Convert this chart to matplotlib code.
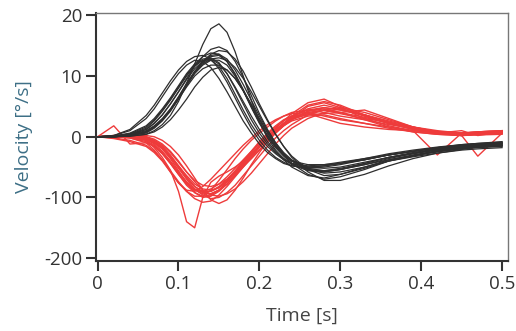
import matplotlib.pyplot as plt
import numpy as np

# time samples (s)
t = [0, 0.02, 0.04, 0.06, 0.07, 0.08, 0.09, 0.10, 0.11, 0.12, 0.13, 0.14, 0.15, 0.16,
     0.17, 0.18, 0.19, 0.20, 0.21, 0.22, 0.23, 0.24, 0.26, 0.28, 0.30, 0.33, 0.36,
     0.39, 0.42, 0.45, 0.47, 0.50]

# black trials
black_trials = [
    [0, 0, 1, 4, 10, 20, 35, 58, 88, 120, 152, 178, 186, 172, 140, 100, 60, 25, -2, -22, -36, -46, -56, -58, -54, -44, -34, -27, -21, -16, -14, -12],
    [0, 2, 12, 35, 52, 72, 92, 110, 124, 132, 134, 128, 112, 90, 64, 38, 14, -6, -22, -34, -42, -48, -52, -50, -46, -38, -30, -24, -18, -14, -12, -10],
    [0, 0, 3, 12, 22, 36, 54, 74, 94, 112, 124, 126, 116, 96, 70, 44, 20, 0, -16, -28, -38, -44, -48, -46, -42, -36, -30, -24, -19, -15, -13, -11],
    [0, 0, 2, 8, 16, 28, 44, 64, 86, 106, 122, 132, 134, 124, 104, 78, 50, 24, 2, -16, -30, -40, -50, -52, -50, -42, -34, -28, -22, -17, -15, -13],
    [0, 1, 5, 16, 28, 44, 62, 82, 102, 118, 128, 130, 122, 104, 80, 54, 28, 6, -12, -26, -36, -44, -50, -48, -44, -36, -28, -22, -17, -13, -11, -9],
    [0, 0, 1, 4, 8, 16, 28, 44, 62, 82, 98, 110, 114, 110, 96, 76, 52, 28, 6, -14, -30, -44, -62, -70, -66, -54, -40, -32, -24, -19, -16, -14],
    [0, 0, 4, 14, 26, 42, 60, 80, 100, 116, 126, 128, 120, 104, 82, 58, 34, 12, -8, -24, -38, -50, -64, -68, -62, -50, -38, -30, -23, -18, -16, -14],
    [0, 0, 2, 8, 16, 28, 44, 64, 86, 106, 124, 136, 142, 140, 128, 108, 82, 54, 28, 4, -16, -32, -54, -64, -62, -52, -40, -31, -24, -19, -17, -15],
    [0, 0, 2, 6, 14, 26, 42, 62, 84, 104, 118, 126, 126, 118, 100, 76, 50, 24, 2, -16, -30, -40, -46, -46, -44, -38, -30, -24, -18, -13, -11, -8],
    [0, 1, 4, 12, 22, 36, 54, 74, 96, 116, 132, 144, 148, 142, 124, 98, 68, 38, 12, -10, -28, -40, -54, -58, -54, -46, -36, -28, -21, -16, -14, -12],
    [0, 0, 2, 8, 16, 28, 44, 64, 86, 106, 120, 128, 130, 126, 114, 96, 74, 50, 26, 4, -16, -34, -58, -72, -72, -62, -48, -36, -27, -21, -17, -15],
    [0, 1, 6, 18, 30, 46, 64, 84, 104, 120, 132, 138, 136, 124, 102, 76, 48, 22, 0, -18, -32, -44, -54, -56, -52, -44, -34, -26, -20, -15, -13, -11],
    [0, 0, 3, 10, 18, 30, 46, 66, 88, 108, 124, 134, 136, 128, 110, 86, 60, 34, 10, -10, -26, -38, -52, -56, -54, -46, -38, -31, -25, -20, -18, -16],
    [0, 0, 2, 8, 16, 28, 44, 62, 82, 100, 112, 118, 118, 110, 96, 76, 54, 30, 8, -12, -28, -40, -54, -60, -58, -50, -40, -33, -27, -22, -20, -18],
    [0, 2, 10, 30, 46, 66, 86, 104, 118, 126, 124, 114, 96, 74, 50, 26, 6, -12, -26, -36, -44, -48, -50, -48, -44, -38, -30, -24, -18, -14, -12, -10],
]

# red trials
red_trials = [
    [0, 2, 0, -6, -18, -34, -55, -90, -140, -150, -100, -75, -65, -58, -50, -40, -28, -16, -4, 8, 18, 26, 34, 36, 30, 22, 14, 8, 4, 2, 3, 4],
    [0, 18, -12, -10, -16, -28, -44, -62, -78, -88, -90, -86, -78, -66, -52, -38, -24, -10, 2, 12, 22, 30, 42, 46, 40, 28, 16, 8, 4, 2, 4, 6],
    [0, 0, -2, -8, -16, -28, -44, -62, -80, -92, -98, -96, -88, -74, -58, -42, -26, -10, 4, 16, 26, 34, 44, 48, 44, 36, 22, 16, 6, 10, 2, 8],
    [0, 0, 4, 0, -6, -16, -30, -48, -66, -82, -92, -94, -88, -78, -64, -50, -36, -22, -8, 6, 18, 30, 50, 56, 48, 30, 18, 10, 6, 4, 6, 8],
    [0, 1, 2, -2, -8, -18, -32, -50, -68, -82, -90, -90, -82, -70, -56, -40, -24, -8, 6, 18, 28, 34, 38, 30, 22, 16, 12, 10, -30, 6, 4, 5],
    [0, -2, -6, -14, -24, -38, -56, -74, -90, -102, -108, -106, -96, -82, -66, -50, -34, -18, -4, 8, 20, 30, 40, 44, 38, 30, 24, 14, 8, 2, -32, 6],
    [0, 0, 2, 2, 0, -6, -16, -30, -48, -68, -88, -104, -110, -104, -88, -68, -46, -26, -8, 8, 22, 32, 46, 52, 46, 34, 22, 14, 8, 6, 8, 10],
    [0, 1, 0, -4, -10, -20, -36, -56, -76, -92, -100, -98, -90, -78, -62, -46, -30, -14, 0, 14, 26, 38, 56, 62, 50, 34, 22, 12, 6, 4, 6, 8],
    [0, 0, -2, -10, -22, -38, -58, -76, -88, -90, -82, -70, -56, -42, -28, -14, -2, 10, 20, 28, 34, 38, 40, 34, 28, 22, 16, 10, 6, 4, 4, 6],
    [0, 0, 0, -4, -10, -20, -34, -52, -70, -86, -96, -102, -100, -92, -80, -64, -48, -32, -16, -2, 10, 20, 36, 44, 48, 40, 28, 16, 8, 4, 6, 8],
    [0, 2, 2, -2, -6, -14, -26, -42, -58, -72, -80, -82, -78, -70, -60, -48, -36, -22, -8, 6, 18, 28, 42, 48, 44, 36, 26, 16, 10, 6, 6, 8],
    [0, -3, -8, -16, -26, -40, -58, -76, -90, -98, -98, -88, -72, -54, -36, -20, -6, 6, 16, 26, 34, 40, 44, 40, 34, 28, 20, 14, 8, 6, 8, 10],
    [0, 0, 1, -2, -8, -18, -32, -48, -64, -78, -86, -88, -84, -74, -60, -44, -28, -14, 0, 12, 22, 30, 36, 38, 40, 44, 30, 16, 8, 4, 6, 8],
    [0, 0, 2, 0, -4, -12, -24, -40, -58, -74, -88, -96, -98, -94, -86, -74, -60, -44, -28, -12, 2, 14, 30, 40, 46, 36, 24, 14, 8, 6, 8, 10],
    [0, 1, -1, -6, -14, -26, -42, -60, -76, -88, -94, -94, -88, -78, -64, -48, -32, -16, -2, 10, 22, 34, 52, 58, 52, 36, 24, 14, 6, 2, 4, 6],
    [0, 0, -1, -4, -12, -24, -40, -58, -74, -86, -92, -90, -84, -72, -58, -44, -30, -16, -2, 10, 20, 28, 38, 44, 40, 32, 22, 12, 6, 2, 6, 8],
]

y_ticks = [200, 100, 0, -100, -200]
y_tick_labels = ['20', '10', '0', '-100', '-200']
x_ticks = [0, 0.1, 0.2, 0.3, 0.4, 0.5]
x_tick_labels = ['0', '0.1', '0.2', '0.3', '0.4', '0.5']

plt.rcParams['font.family'] = ['Open Sans', 'DejaVu Sans']

fig = plt.figure(figsize=(5.16, 3.31), dpi=100)
ax = fig.add_axes([0.186, 0.211, 0.798, 0.750])

for trial in red_trials:
    ax.plot(t, trial, color='#ee3b3b', lw=1.0)
for trial in black_trials:
    ax.plot(t, trial, color='#2e2e2e', lw=0.9)

ax.set_xlim(-0.002, 0.507)
ax.set_ylim(-205, 204)
ax.set_xticks(x_ticks)
ax.set_xticklabels(x_tick_labels)
ax.set_yticks(y_ticks)
ax.set_yticklabels(y_tick_labels)
ax.tick_params(direction='out', length=7, width=1.5, color='#333333',
               labelsize=13.5, labelcolor='#333333', pad=3)

for side in ['left', 'bottom']:
    ax.spines[side].set_color('#333333')
    ax.spines[side].set_linewidth(1.5)
for side in ['top', 'right']:
    ax.spines[side].set_color('#777777')
    ax.spines[side].set_linewidth(1.0)

ax.set_xlabel('Time [s]', fontsize=14, color='#444444', labelpad=10)
ax.set_ylabel('Velocity [°/s]', fontsize=14, color='#3d6f86', labelpad=8)

fig.savefig('out.png', dpi=100)
